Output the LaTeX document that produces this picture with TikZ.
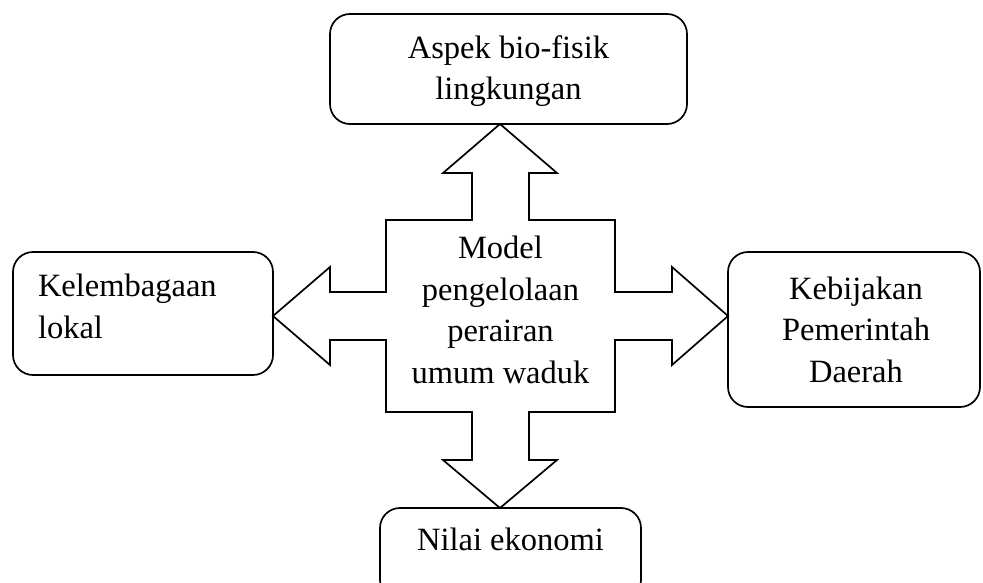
\documentclass[tikz,border=0pt]{standalone}
\usepackage{fontspec}
\setmainfont{Liberation Serif}
\begin{document}
\begin{tikzpicture}[x=1pt,y=-1pt,
  box/.style={draw, line width=1.7pt, rounded corners=20pt, outer sep=0pt, inner sep=0pt},
  lbl/.style={font=\fontsize{32.5}{41.5}\selectfont, inner sep=0pt, outer sep=0pt},
  blockarrow/.style={draw, line width=1.7pt, fill=white, line join=miter}]
\useasboundingbox (0,0) rectangle (983,583);
% boxes
\node[box, minimum width=357pt, minimum height=110pt] (top) at (508.5,69) {};
\node[box, minimum width=260pt, minimum height=123pt] (left) at (143,313.5) {};
\node[box, minimum width=252pt, minimum height=155pt] (right) at (854,329.5) {};
\node[box, minimum width=261pt, minimum height=92pt] (bottom) at (510.5,554) {};
% four-way block arrow
\draw[blockarrow] (500,124) -- (557,173) -- (529,173) -- (529,220) -- (615,220) -- (615,292)
  -- (672,292) -- (672,267) -- (728,316) -- (672,365) -- (672,340) -- (615,340) -- (615,412)
  -- (529,412) -- (529,460) -- (557,460) -- (500,508) -- (443,460) -- (472,460) -- (472,412)
  -- (386,412) -- (386,340) -- (330,340) -- (330,365) -- (273,316) -- (330,267) -- (330,292)
  -- (386,292) -- (386,220) -- (472,220) -- (472,173) -- (443,173) -- cycle;
% labels (base anchor = baseline of the last line)
\node[lbl, align=center, anchor=base] (toptext) at (508.5,100) {Aspek bio-fisik\\lingkungan};
\node[lbl, align=left, anchor=base west] (lefttext) at (38,338) {Kelembagaan\\lokal};
\node[lbl, align=center, anchor=base] (righttext) at (856,382) {Kebijakan\\Pemerintah\\Daerah};
\node[lbl, align=center, anchor=base] (bottomtext) at (510.5,550) {Nilai ekonomi};
\node[lbl, align=center, anchor=base] (hub) at (500.5,383) {Model\\pengelolaan\\perairan\\umum waduk};
\end{tikzpicture}
\end{document}
